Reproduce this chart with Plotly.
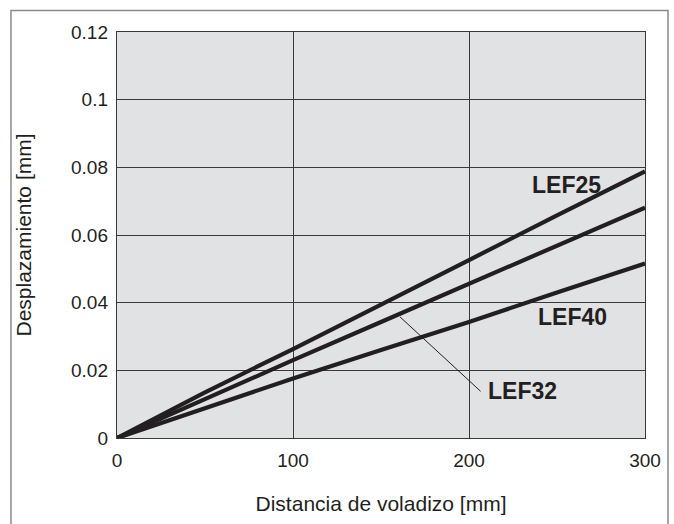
import plotly.graph_objects as go

# Data
x_vals = [0, 50, 100, 150, 200, 250, 300]
lef25 = [0, 0.0135, 0.0263, 0.0396, 0.0526, 0.0658, 0.0788]
lef32 = [0, 0.0116, 0.0230, 0.0343, 0.0455, 0.0568, 0.0681]
lef40 = [0, 0.0088, 0.0176, 0.0260, 0.0343, 0.0430, 0.0516]

series_names = ["LEF25", "LEF32", "LEF40"]
label_x = [234.7, 209.7, 237.8]
label_y = [0.0749, 0.0139, 0.0358]

leader_x = [160.8, 206.6]
leader_y = [0.0358, 0.0138]

x_ticks = [0, 100, 200, 300]
y_ticks = [0, 0.02, 0.04, 0.06, 0.08, 0.1, 0.12]
y_tick_text = ["0", "0.02", "0.04", "0.06", "0.08", "0.1", "0.12"]

FONT = "Liberation Sans, Arial, sans-serif"
LINE_COLOR = "#231f20"

fig = go.Figure()
for name, ys in zip(series_names, [lef25, lef32, lef40]):
    fig.add_trace(go.Scatter(x=x_vals, y=ys, mode="lines", name=name,
                             line=dict(color=LINE_COLOR, width=4.2),
                             showlegend=False, hoverinfo="skip"))

fig.add_trace(go.Scatter(x=leader_x, y=leader_y, mode="lines",
                         line=dict(color=LINE_COLOR, width=1),
                         showlegend=False, hoverinfo="skip"))

for name, lx, ly in zip(series_names, label_x, label_y):
    fig.add_annotation(x=lx, y=ly, text="<b>%s</b>" % name, showarrow=False,
                       xanchor="left", yanchor="middle",
                       font=dict(family=FONT, size=23, color=LINE_COLOR))

# outer frame
fig.add_shape(type="rect", xref="paper", yref="paper",
              x0=-0.2008, x1=1.0436, y0=-0.4, y1=1.053,
              line=dict(color="#8a8a8a", width=1.5), layer="below")

fig.update_layout(
    width=674, height=524,
    margin=dict(l=117, r=29, t=32, b=77),
    paper_bgcolor="white",
    plot_bgcolor="#e1e2e4",
    font=dict(family=FONT, size=19, color=LINE_COLOR),
)
fig.update_xaxes(
    range=[0, 300], tickvals=x_ticks, ticktext=[str(v) for v in x_ticks],
    showgrid=True, gridcolor="#3a3a3a", gridwidth=1,
    showline=True, linecolor="#3a3a3a", linewidth=1.2, mirror=True,
    ticks="outside", ticklen=5, tickcolor="rgba(0,0,0,0)",
    zeroline=False,
    title=dict(text="Distancia de voladizo [mm]", standoff=26,
               font=dict(family=FONT, size=21)),
)
fig.update_yaxes(
    range=[0, 0.12], tickvals=y_ticks, ticktext=y_tick_text,
    showgrid=True, gridcolor="#3a3a3a", gridwidth=1,
    showline=True, linecolor="#3a3a3a", linewidth=1.2, mirror=True,
    ticks="outside", ticklen=4, tickcolor="rgba(0,0,0,0)",
    zeroline=False,
    title=dict(text="Desplazamiento [mm]", standoff=33,
               font=dict(family=FONT, size=21)),
)

fig.write_html(
    "out.html",
    config={"displayModeBar": False, "staticPlot": True},
    post_script="document.body.style.margin='0';document.body.style.overflow='hidden';",
)
